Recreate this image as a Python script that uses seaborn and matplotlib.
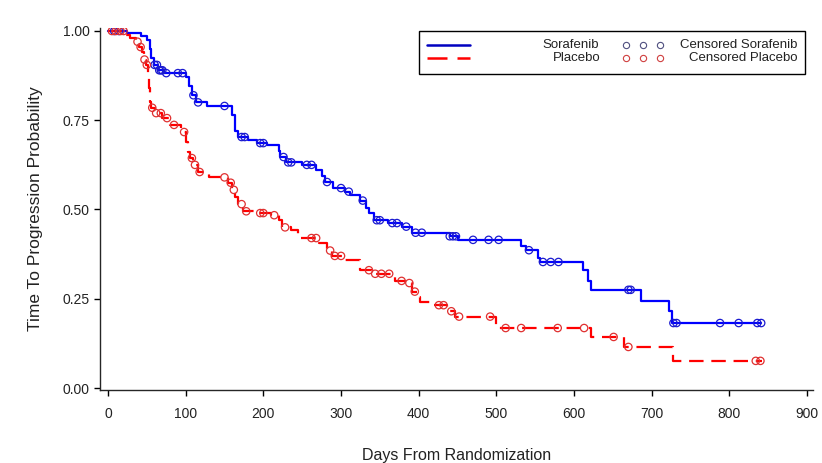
import numpy as np
import matplotlib
matplotlib.use("Agg")
import matplotlib.pyplot as plt
from matplotlib.patches import Rectangle
from matplotlib.lines import Line2D
import seaborn as sns

# Kaplan-Meier steps: day of event, survival after it
sora_days = [0, 25, 42, 50, 54, 56, 59, 64, 72, 100, 104, 108, 113, 127, 160, 164, 168,
             180, 192, 205, 220, 222, 229, 250, 268, 276, 280, 290, 305, 312, 324, 332,
             336, 342, 360, 378, 392, 440, 450, 532, 538, 553, 556, 612, 618, 622, 686,
             722, 726, 841]
sora_surv = [1.0, 0.995, 0.985, 0.975, 0.95, 0.925, 0.905, 0.89, 0.882, 0.87, 0.845, 0.82,
             0.80, 0.79, 0.765, 0.72, 0.703, 0.695, 0.686, 0.68, 0.665, 0.647, 0.632, 0.625,
             0.61, 0.595, 0.577, 0.56, 0.55, 0.54, 0.525, 0.505, 0.49, 0.47, 0.462, 0.452,
             0.435, 0.425, 0.415, 0.398, 0.386, 0.365, 0.353, 0.33, 0.30, 0.275, 0.244,
             0.215, 0.182, 0.182]
sora_cens = [8, 14, 60, 63, 66, 68, 70, 75, 90, 96, 110, 116, 150, 172, 176, 196, 200, 226,
             232, 236, 256, 262, 282, 300, 310, 328, 346, 350, 366, 372, 384, 396, 404, 440,
             444, 448, 470, 490, 503, 542, 560, 570, 580, 670, 673, 728, 732, 788, 812, 836, 841]

plac_days = [0, 22, 28, 36, 40, 44, 46, 49, 51, 52, 53, 54, 56, 60, 70, 80, 94, 100, 103,
             106, 110, 116, 130, 155, 160, 164, 168, 174, 190, 210, 220, 224, 235, 244, 272,
             282, 288, 302, 324, 340, 370, 385, 392, 398, 402, 414, 436, 447, 500, 622, 664,
             727, 842]
plac_surv = [1.0, 0.99, 0.98, 0.97, 0.955, 0.94, 0.92, 0.905, 0.885, 0.877, 0.84, 0.80,
             0.785, 0.77, 0.756, 0.737, 0.717, 0.69, 0.66, 0.644, 0.625, 0.605, 0.59, 0.575,
             0.555, 0.535, 0.515, 0.495, 0.49, 0.484, 0.47, 0.45, 0.443, 0.42, 0.406, 0.385,
             0.37, 0.358, 0.33, 0.32, 0.30, 0.294, 0.27, 0.255, 0.24, 0.232, 0.215, 0.20,
             0.168, 0.143, 0.115, 0.076, 0.076]
plac_cens = [5, 10, 16, 20, 38, 42, 47, 50, 57, 62, 68, 76, 85, 98, 108, 112, 118, 150, 158,
             162, 172, 178, 196, 200, 214, 228, 262, 268, 286, 292, 300, 336, 344, 352, 362,
             378, 388, 395, 426, 432, 442, 452, 492, 512, 532, 579, 613, 651, 670, 834, 840]

x_ticks = [0, 100, 200, 300, 400, 500, 600, 700, 800, 900]
y_ticks = [0.0, 0.25, 0.5, 0.75, 1.0]

sns.set_theme(style="ticks")
plt.rcParams["font.family"] = ["Liberation Sans", "DejaVu Sans"]
plt.rcParams["axes.linewidth"] = 1.0

W, H = 822, 463
fig = plt.figure(figsize=(W / 100, H / 100), dpi=100)
ax = fig.add_axes([100 / W, 1 - 390 / H, 713 / W, 362 / H])


def cens_y(days, surv, cens):
    idx = np.searchsorted(days, cens, side="right") - 1
    return np.asarray(surv)[idx]


blue, red = "#0000FF", "#FF0000"

sns.lineplot(x=sora_days, y=sora_surv, drawstyle="steps-post", color=blue, lw=1.6,
             estimator=None, sort=False, ax=ax)
sns.lineplot(x=plac_days, y=plac_surv, drawstyle="steps-post", color=red, lw=1.6,
             linestyle=(0, (6.5, 3.5)), estimator=None, sort=False, ax=ax)
sns.scatterplot(x=sora_cens, y=cens_y(sora_days, sora_surv, sora_cens), marker="o", s=28,
                color=blue, facecolor="none", edgecolor="#1a1ad0", linewidth=0.9, ax=ax, zorder=3)
sns.scatterplot(x=plac_cens, y=cens_y(plac_days, plac_surv, plac_cens), marker="o", s=28,
                color=red, facecolor="none", edgecolor="#e03030", linewidth=0.9, ax=ax, zorder=3)

ax.set_xlim(-10.3, 907.7)
ax.set_ylim(-0.0056, 1.0084)
ax.set_xticks(x_ticks)
ax.set_yticks(y_ticks)
ax.set_yticklabels([f"{v:.2f}" for v in y_ticks])
ax.tick_params(axis="both", direction="out", length=4, width=1, labelsize=10,
               colors="black", labelcolor="#222222")
ax.tick_params(axis="x", pad=8)
sns.despine(ax=ax)
ax.set_xlabel("Days From Randomization", fontsize=11.5, labelpad=20, color="#222222")
ax.set_ylabel("Time To Progression Probability", fontsize=12.5, labelpad=14, color="#222222")

# legend box drawn by hand (SAS style layout)
def fx(px):
    return px / W


def fy(py):
    return 1 - py / H


fig.add_artist(Rectangle((fx(419), fy(74)), fx(805) - fx(419), fy(31) - fy(74),
                         transform=fig.transFigure, fill=False, edgecolor="black", lw=1))
fig.add_artist(Line2D([fx(427), fx(470)], [fy(45), fy(45)], transform=fig.transFigure,
                      color="#0000C0", lw=1.8))
fig.add_artist(Line2D([fx(427), fx(470)], [fy(58), fy(58)], transform=fig.transFigure,
                      color=red, lw=1.8, linestyle=(0, (8, 4))))
for cx in (626, 643, 660):
    fig.add_artist(Line2D([fx(cx)], [fy(45)], transform=fig.transFigure, marker="o",
                          ms=4.5, mfc="none", mec="#505080", mew=0.8, linestyle="none"))
    fig.add_artist(Line2D([fx(cx)], [fy(58)], transform=fig.transFigure, marker="o",
                          ms=4.5, mfc="none", mec="#d04040", mew=0.8, linestyle="none"))
fig.text(fx(599), fy(45), "Sorafenib", ha="right", va="center", fontsize=9.5, color="#222222")
fig.text(fx(600), fy(58), "Placebo", ha="right", va="center", fontsize=9.5, color="#222222")
fig.text(fx(797), fy(45), "Censored Sorafenib", ha="right", va="center", fontsize=9.5,
         color="#222222")
fig.text(fx(797), fy(58), "Censored Placebo", ha="right", va="center", fontsize=9.5,
         color="#222222")

fig.savefig("out.png", dpi=100)
